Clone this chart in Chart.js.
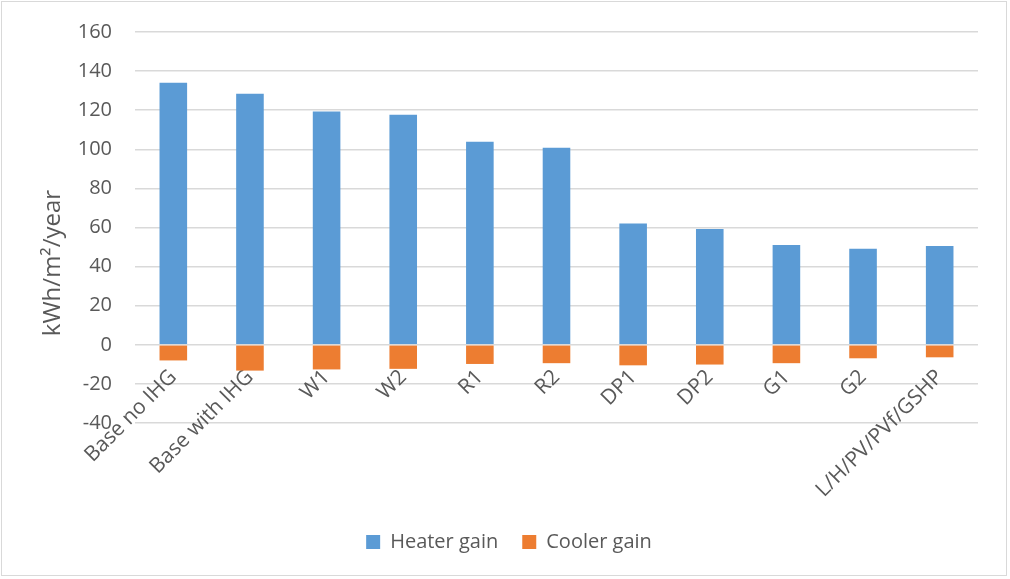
<!DOCTYPE html>
<html>
<head>
<meta charset="utf-8">
<script src="https://cdn.jsdelivr.net/npm/chart.js@4/dist/chart.umd.min.js"></script>
<style>
  html, body { margin: 0; padding: 0; background: #fff; }
  #wrap { position: relative; width: 1010px; height: 579px; }
  #frame { position: absolute; left: 1px; top: 1px; width: 1006px; height: 575px; border: 1px solid #d9d9d9; box-sizing: border-box; pointer-events: none; }
</style>
</head>
<body>
<div id="wrap">
  <canvas id="chart" width="1010" height="579"></canvas>
  <div id="frame"></div>
</div>
<script>
// categories and values
const categories = ['Base no IHG', 'Base with IHG', 'W1', 'W2', 'R1', 'R2', 'DP1', 'DP2', 'G1', 'G2', 'L/H/PV/PVf/GSHP'];
const heaterGain = [134.1, 128.4, 119.3, 117.7, 103.8, 100.8, 62.1, 59.2, 51.0, 49.1, 50.5];
const coolerGain = [-8.0, -13.2, -12.6, -12.3, -9.8, -9.4, -10.5, -10.1, -9.4, -6.9, -6.4];
const yTicks = [-40, -20, 0, 20, 40, 60, 80, 100, 120, 140, 160];
const yTitle = 'kWh/m\u00b2/year';

const textColor = '#595959';
const fontFamily = "'Open Sans', 'Liberation Sans', sans-serif";

Chart.defaults.font.family = fontFamily;
Chart.defaults.color = textColor;

// y axis title, drawn off-centre like the original
const yTitlePlugin = {
  id: 'yTitle',
  afterDraw(chart) {
    const ctx = chart.ctx;
    ctx.save();
    ctx.translate(53, 263);
    ctx.rotate(-Math.PI / 2);
    ctx.font = '24px ' + fontFamily;
    ctx.fillStyle = textColor;
    ctx.textAlign = 'center';
    ctx.textBaseline = 'middle';
    ctx.fillText(yTitle, 0, 0);
    ctx.restore();
  }
};

new Chart(document.getElementById('chart'), {
  type: 'bar',
  data: {
    labels: categories,
    datasets: [
      { label: 'Heater gain', data: heaterGain, backgroundColor: '#5b9bd5' },
      { label: 'Cooler gain', data: coolerGain, backgroundColor: '#ed7d31' }
    ]
  },
  options: {
    responsive: false,
    animation: false,
    datasets: { bar: { categoryPercentage: 1, barPercentage: 0.36 } },
    layout: { padding: { left: 40, right: 32, top: 32, bottom: 17 } },
    plugins: {
      tooltip: { enabled: false },
      legend: {
        position: 'bottom',
        // empty title only used as a spacer between the plot and the legend
        title: { display: true, text: '', font: { size: 10 }, padding: { top: 73, bottom: 0 } },
        labels: { boxWidth: 14, boxHeight: 14, padding: 24, font: { size: 20 }, color: textColor }
      }
    },
    scales: {
      x: {
        position: { y: 0 },
        stacked: true,
        grid: { display: false },
        border: { display: false },
        ticks: { minRotation: 45, maxRotation: 45, autoSkip: false, padding: 12, font: { size: 21 }, color: textColor },
        afterFit(scale) { scale.height = 0; }
      },
      y: {
        stacked: true,
        min: -40,
        max: 160,
        afterBuildTicks(scale) { scale.ticks = yTicks.map(v => ({ value: v })); },
        // invisible tick marks give the label gap without padding the plot top
        grid: { color: '#d9d9d9', lineWidth: 1.5, drawTicks: true, tickLength: 20, tickColor: 'rgba(0,0,0,0)' },
        border: { display: false },
        ticks: { padding: 3, font: { size: 20 }, color: textColor },
        afterFit(scale) { scale.width = 95; }
      }
    }
  },
  plugins: [yTitlePlugin]
});
</script>
</body>
</html>
